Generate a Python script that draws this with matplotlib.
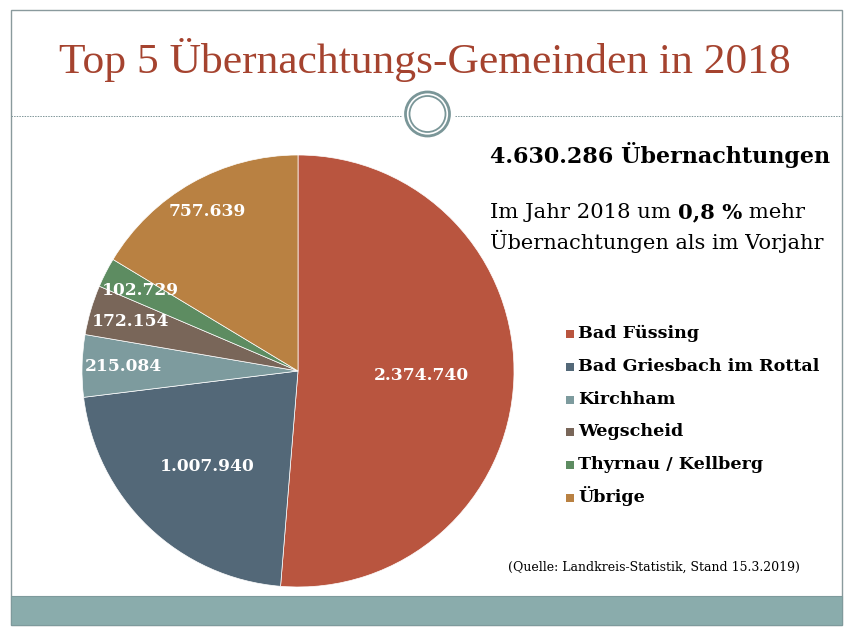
import numpy as np
import matplotlib.pyplot as plt
from matplotlib.patches import Rectangle, Circle

# data
gemeinden = ["Bad Füssing", "Bad Griesbach im Rottal", "Kirchham",
             "Wegscheid", "Thyrnau / Kellberg", "Übrige"]
uebernachtungen = [2374740, 1007940, 215084, 172154, 102729, 757639]
farben = ["#B9553F", "#536878", "#7D9B9E", "#796659", "#5D8C61", "#B98142"]
label_dist = [0.57, 0.61, 0.81, 0.81, 0.82, 0.85]

title = "Top 5 Übernachtungs-Gemeinden in 2018"
summe_text = "4.630.286 Übernachtungen"
quelle = "(Quelle: Landkreis-Statistik, Stand 15.3.2019)"

W, H = 852, 635
fig = plt.figure(figsize=(W / 100, H / 100), dpi=100)
bg = fig.add_axes([0, 0, 1, 1])
bg.set_xlim(0, W)
bg.set_ylim(H, 0)
bg.axis("off")

serif = "DejaVu Serif"

# frame + bottom bar
bg.add_patch(Rectangle((11, 10), 831, 615, fill=False, ec="#8A9A9D", lw=1.0))
bg.add_patch(Rectangle((11, 596), 831, 29, fc="#8AACAC", ec="#7E9A9C", lw=0.8))

# title
bg.text(425, 73, title, ha="center", va="baseline", fontsize=31.3,
        family="Liberation Serif", color="#A5432F")

# dashed rule with ring ornament
bg.plot([11, 401], [116, 116], ls=(0, (1.5, 1.2)), color="#7F9598", lw=0.7)
bg.plot([455, 842], [116, 116], ls=(0, (1.5, 1.2)), color="#7F9598", lw=0.7)
bg.add_patch(Circle((427.5, 114), 22, fc="white", ec="#7A9698", lw=2.0))
bg.add_patch(Circle((427.5, 114), 18, fc="white", ec="#7A9698", lw=1.3))

# pie
cx, cy, r = 298, 371, 216
pie_ax = fig.add_axes([(cx - r) / W, (H - cy - r) / H, 2 * r / W, 2 * r / H])
wedges, _ = pie_ax.pie(uebernachtungen, colors=farben, startangle=90,
                       counterclock=False,
                       wedgeprops=dict(edgecolor="white", linewidth=0.5))
pie_ax.set_xlim(-1, 1)
pie_ax.set_ylim(-1, 1)
for w, val, d in zip(wedges, uebernachtungen, label_dist):
    ang = np.deg2rad((w.theta1 + w.theta2) / 2)
    lbl = f"{val:,}".replace(",", ".")
    pie_ax.text(d * np.cos(ang), d * np.sin(ang), lbl, ha="center",
                va="center", color="white", fontsize=12.3,
                fontweight="bold", family=serif)

# right-hand text
bg.text(490, 155, summe_text, ha="left", va="center", fontsize=16,
        fontweight="bold", family=serif, color="black")
t1 = bg.text(490, 213, "Im Jahr 2018 um ", ha="left", va="center",
             fontsize=15.2, family=serif, color="black")
t2 = bg.annotate("0,8 %", xy=(1, 0), xycoords=t1, va="bottom", ha="left",
                 fontsize=15.2, fontweight="bold", family=serif)
bg.annotate(" mehr", xy=(1, 0), xycoords=t2, va="bottom", ha="left",
            fontsize=15.2, family=serif)
bg.text(490, 241, "Übernachtungen als im Vorjahr", ha="left", va="center",
        fontsize=15, family=serif, color="black")

# legend (drawn by hand for even row spacing)
y0, dy = 333, 32.8
for i, (name, col) in enumerate(zip(gemeinden, farben)):
    y = y0 + i * dy
    bg.add_patch(Rectangle((566, y - 3), 8, 8, fc=col, ec="none"))
    bg.text(578, y + 5, name, ha="left", va="baseline", fontsize=12.6,
            fontweight="bold", family=serif, color="black")

bg.text(508, 567, quelle, ha="left", va="center", fontsize=9,
        family=serif, color="black")

fig.savefig("out.png", dpi=100)
